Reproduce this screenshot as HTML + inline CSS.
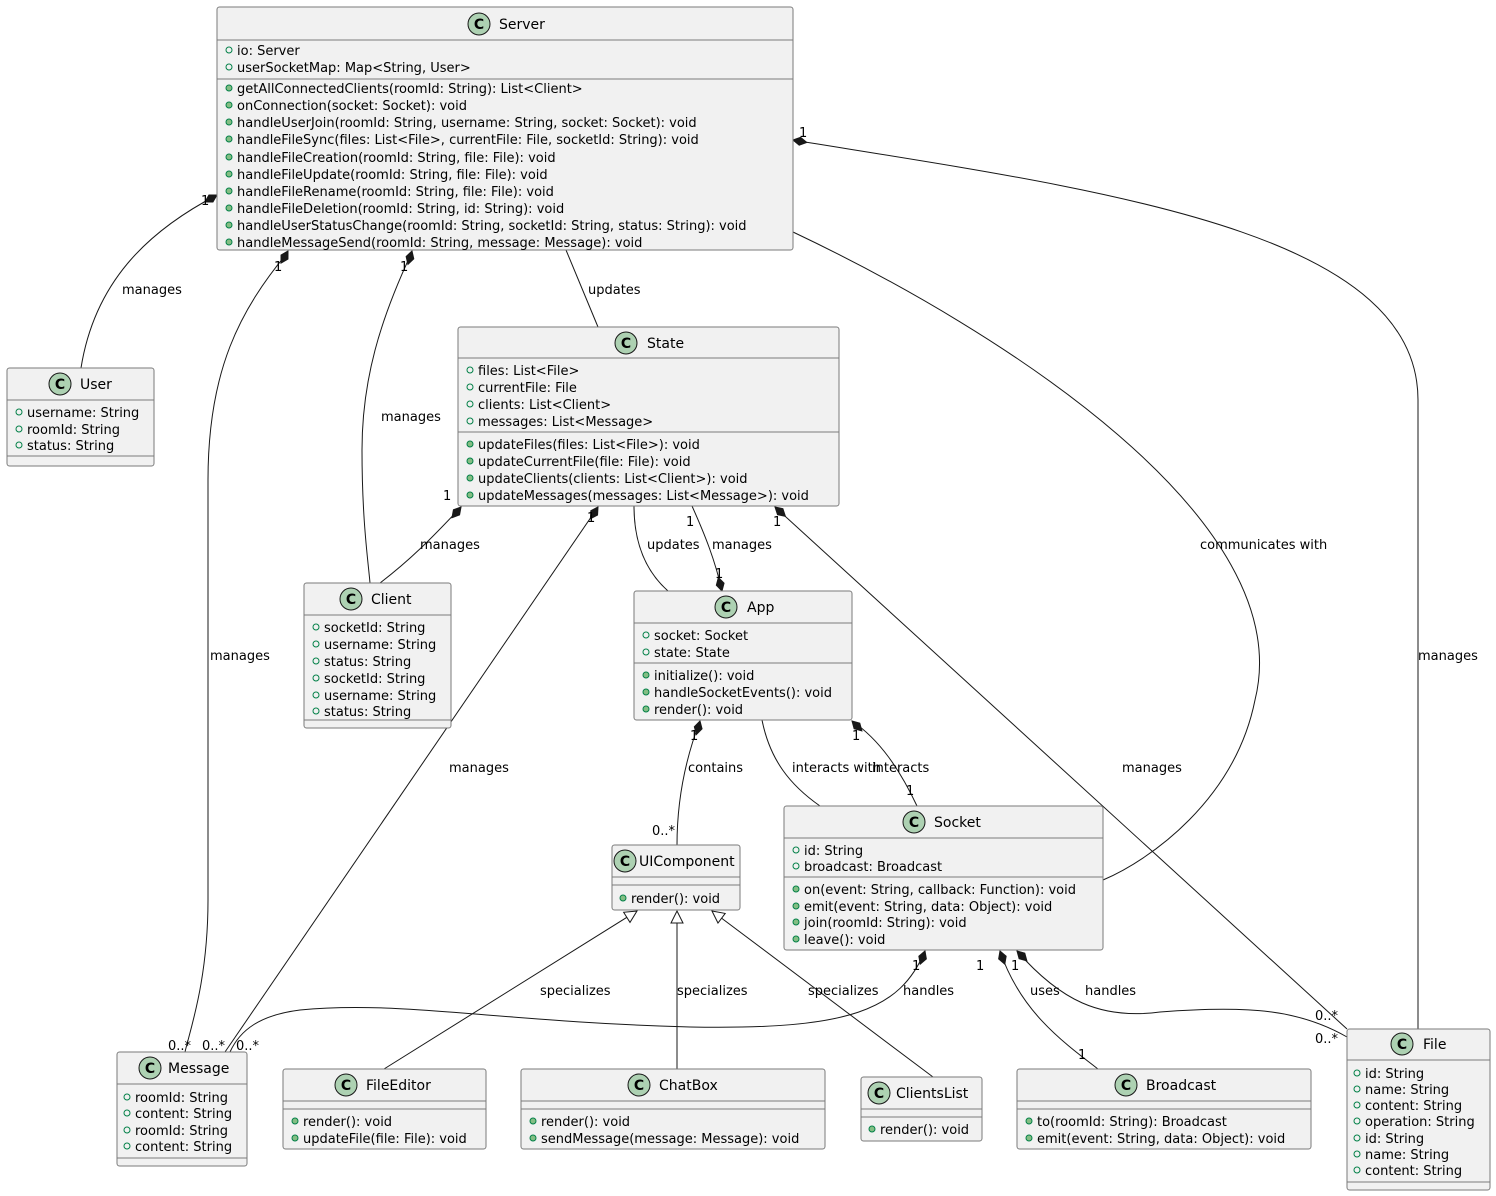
<!DOCTYPE html>
<html><head><meta charset="utf-8"><style>
html,body{margin:0;padding:0;background:#fff}
svg{display:block}
text{font-family:"DejaVu Sans","Liberation Sans",sans-serif;fill:#000}
.n{font-size:14px}
.m{font-size:13px}
.l{font-size:13px}
.box{fill:#F1F1F1;stroke:#7a7a7a;stroke-width:1}
.sep{stroke:#7a7a7a;stroke-width:1}
.e{fill:none;stroke:#181818;stroke-width:1}
.ci{fill:#ADD1B2;stroke:#181818;stroke-width:1}
.ao{fill:none;stroke:#038048;stroke-width:1}
.mo{fill:#84BE84;stroke:#038048;stroke-width:1}
.d{fill:#181818;stroke:#181818}
.t{fill:#fff;stroke:#181818}
</style></head><body>
<svg width="1496" height="1196" viewBox="0 0 1496 1196" xmlns="http://www.w3.org/2000/svg">
<!-- EDGES -->
<path class="e" d="M217,195 C150,230 95,280 81,368"/>
<path class="e" d="M288,252 C240,310 208,370 208,480 L208,900 C208,980 190,1030 185,1052"/>
<path class="e" d="M412,252 C380,320 362,380 362,450 C362,520 368,560 370,583"/>
<path class="e" d="M566,250 L598,327"/>
<path class="e" d="M793,232 C1000,330 1300,520 1255,700 C1235,800 1150,860 1103,880"/>
<path class="e" d="M793,140 C1100,190 1418,230 1418,400 L1418,1029"/>
<path class="e" d="M461,507 C430,540 410,560 380,583"/>
<path class="e" d="M598,507 L225,1052"/>
<path class="e" d="M634,506 C634,550 650,575 668,591"/>
<path class="e" d="M692,506 C705,535 715,560 722,591"/>
<path class="e" d="M775,507 L1347,1029"/>
<path class="e" d="M700,721 C685,760 677,800 677,845"/>
<path class="e" d="M762,720 C770,760 790,785 820,806"/>
<path class="e" d="M852,721 C880,740 900,770 917,806"/>
<path class="e" d="M637,911 L384,1069"/>
<path class="e" d="M677,911 L677,1069"/>
<path class="e" d="M712,911 L933,1077"/>
<path class="e" d="M925,951 C900,1010 850,1030 690,1027 C500,1022 400,1000 300,1010 C260,1015 240,1030 230,1052"/>
<path class="e" d="M1000,951 C1020,1010 1060,1040 1098,1069"/>
<path class="e" d="M1017,951 C1060,1000 1100,1020 1160,1012 C1250,1005 1300,1010 1347,1037"/>
<!-- diamonds -->
<g>
<polygon class="d" points="0,0 7,-4 14,0 7,4" transform="translate(217,195) rotate(150)"/>
<polygon class="d" points="0,0 7,-4 14,0 7,4" transform="translate(288,251) rotate(120)"/>
<polygon class="d" points="0,0 7,-4 14,0 7,4" transform="translate(412,251) rotate(107)"/>
<polygon class="d" points="0,0 7,-4 14,0 7,4" transform="translate(793,140) rotate(10)"/>
<polygon class="d" points="0,0 7,-4 14,0 7,4" transform="translate(461,507) rotate(130)"/>
<polygon class="d" points="0,0 7,-4 14,0 7,4" transform="translate(598,507) rotate(123)"/>
<polygon class="d" points="0,0 7,-4 14,0 7,4" transform="translate(722,591) rotate(-105)"/>
<polygon class="d" points="0,0 7,-4 14,0 7,4" transform="translate(775,507) rotate(42)"/>
<polygon class="d" points="0,0 7,-4 14,0 7,4" transform="translate(700,721) rotate(105)"/>
<polygon class="d" points="0,0 7,-4 14,0 7,4" transform="translate(852,721) rotate(45)"/>
<polygon class="d" points="0,0 7,-4 14,0 7,4" transform="translate(925,951) rotate(110)"/>
<polygon class="d" points="0,0 7,-4 14,0 7,4" transform="translate(1000,951) rotate(70)"/>
<polygon class="d" points="0,0 7,-4 14,0 7,4" transform="translate(1017,951) rotate(45)"/>
<polygon class="t" points="0,0 12,-6 12,6" transform="translate(637,911) rotate(148)"/>
<polygon class="t" points="0,0 12,-6 12,6" transform="translate(677,911) rotate(90)"/>
<polygon class="t" points="0,0 12,-6 12,6" transform="translate(712,911) rotate(37)"/>
</g>
<!-- edge labels -->
<g class="l">
<text x="122" y="294">manages</text>
<text x="201" y="205">1</text>
<text x="60" y="384">0..*</text>
<text x="210" y="660">manages</text>
<text x="274" y="271">1</text>
<text x="168" y="1050">0..*</text>
<text x="381" y="421">manages</text>
<text x="400" y="271">1</text>
<text x="342" y="599">0..*</text>
<text x="588" y="294">updates</text>
<text x="1200" y="549">communicates with</text>
<text x="1418" y="660">manages</text>
<text x="799" y="137">1</text>
<text x="1392" y="1044">0..*</text>
<text x="420" y="549">manages</text>
<text x="443" y="500">1</text>
<text x="365" y="599">0..*</text>
<text x="449" y="772">manages</text>
<text x="587" y="522">1</text>
<text x="202" y="1050">0..*</text>
<text x="236" y="1050">0..*</text>
<text x="647" y="549">updates</text>
<text x="712" y="549">manages</text>
<text x="686" y="526">1</text>
<text x="715" y="578">1</text>
<text x="1122" y="772">manages</text>
<text x="773" y="526">1</text>
<text x="1315" y="1020">0..*</text>
<text x="1315" y="1043">0..*</text>
<text x="688" y="772">contains</text>
<text x="690" y="740">1</text>
<text x="652" y="835">0..*</text>
<text x="792" y="772">interacts with</text>
<text x="872" y="772">interacts</text>
<text x="852" y="740">1</text>
<text x="906" y="795">1</text>
<text x="540" y="995">specializes</text>
<text x="677" y="995">specializes</text>
<text x="808" y="995">specializes</text>
<text x="903" y="995">handles</text>
<text x="912" y="970">1</text>
<text x="1030" y="995">uses</text>
<text x="976" y="970">1</text>
<text x="1078" y="1059">1</text>
<text x="1085" y="995">handles</text>
<text x="1011" y="970">1</text>
</g>

<!-- CLASSES -->
<!-- Server -->
<rect class="box" x="217" y="7" width="576" height="243" rx="2.5"/>
<line class="sep" x1="217" y1="40" x2="793" y2="40"/><line class="sep" x1="217" y1="79" x2="793" y2="79"/>
<circle class="ci" cx="479" cy="24" r="11"/><text class="n" x="479" y="29" text-anchor="middle" font-weight="bold">C</text>
<text class="n" x="499" y="29">Server</text>
<g class="m">
<circle class="ao" cx="229" cy="50" r="3"/><text x="237" y="55">io: Server</text>
<circle class="ao" cx="229" cy="67" r="3"/><text x="237" y="72">userSocketMap: Map&lt;String, User&gt;</text>
<circle class="mo" cx="229" cy="88" r="3"/><text x="237" y="93">getAllConnectedClients(roomId: String): List&lt;Client&gt;</text>
<circle class="mo" cx="229" cy="105" r="3"/><text x="237" y="110">onConnection(socket: Socket): void</text>
<circle class="mo" cx="229" cy="122" r="3"/><text x="237" y="127">handleUserJoin(roomId: String, username: String, socket: Socket): void</text>
<circle class="mo" cx="229" cy="139" r="3"/><text x="237" y="144">handleFileSync(files: List&lt;File&gt;, currentFile: File, socketId: String): void</text>
<circle class="mo" cx="229" cy="157" r="3"/><text x="237" y="162">handleFileCreation(roomId: String, file: File): void</text>
<circle class="mo" cx="229" cy="174" r="3"/><text x="237" y="179">handleFileUpdate(roomId: String, file: File): void</text>
<circle class="mo" cx="229" cy="191" r="3"/><text x="237" y="196">handleFileRename(roomId: String, file: File): void</text>
<circle class="mo" cx="229" cy="208" r="3"/><text x="237" y="213">handleFileDeletion(roomId: String, id: String): void</text>
<circle class="mo" cx="229" cy="225" r="3"/><text x="237" y="230">handleUserStatusChange(roomId: String, socketId: String, status: String): void</text>
<circle class="mo" cx="229" cy="242" r="3"/><text x="237" y="247">handleMessageSend(roomId: String, message: Message): void</text>
</g>

<!-- User -->
<rect class="box" x="7" y="368" width="147" height="98" rx="2.5"/>
<line class="sep" x1="7" y1="400" x2="154" y2="400"/><line class="sep" x1="7" y1="456" x2="154" y2="456"/>
<circle class="ci" cx="60" cy="384" r="11"/><text class="n" x="60" y="389" text-anchor="middle" font-weight="bold">C</text>
<text class="n" x="80" y="389">User</text>
<g class="m">
<circle class="ao" cx="19" cy="412" r="3"/><text x="27" y="417">username: String</text>
<circle class="ao" cx="19" cy="429" r="3"/><text x="27" y="434">roomId: String</text>
<circle class="ao" cx="19" cy="445" r="3"/><text x="27" y="450">status: String</text>
</g>

<!-- State -->
<rect class="box" x="458" y="327" width="381" height="179" rx="2.5"/>
<line class="sep" x1="458" y1="358" x2="839" y2="358"/><line class="sep" x1="458" y1="432" x2="839" y2="432"/>
<circle class="ci" cx="626" cy="343" r="11"/><text class="n" x="626" y="348" text-anchor="middle" font-weight="bold">C</text>
<text class="n" x="647" y="348">State</text>
<g class="m">
<circle class="ao" cx="470" cy="370" r="3"/><text x="478" y="375">files: List&lt;File&gt;</text>
<circle class="ao" cx="470" cy="387" r="3"/><text x="478" y="392">currentFile: File</text>
<circle class="ao" cx="470" cy="404" r="3"/><text x="478" y="409">clients: List&lt;Client&gt;</text>
<circle class="ao" cx="470" cy="421" r="3"/><text x="478" y="426">messages: List&lt;Message&gt;</text>
<circle class="mo" cx="470" cy="444" r="3"/><text x="478" y="449">updateFiles(files: List&lt;File&gt;): void</text>
<circle class="mo" cx="470" cy="461" r="3"/><text x="478" y="466">updateCurrentFile(file: File): void</text>
<circle class="mo" cx="470" cy="478" r="3"/><text x="478" y="483">updateClients(clients: List&lt;Client&gt;): void</text>
<circle class="mo" cx="470" cy="495" r="3"/><text x="478" y="500">updateMessages(messages: List&lt;Message&gt;): void</text>
</g>

<!-- Client -->
<rect class="box" x="304" y="583" width="147" height="145" rx="2.5"/>
<line class="sep" x1="304" y1="615" x2="451" y2="615"/><line class="sep" x1="304" y1="720" x2="451" y2="720"/>
<circle class="ci" cx="351" cy="599" r="11"/><text class="n" x="351" y="604" text-anchor="middle" font-weight="bold">C</text>
<text class="n" x="371" y="604">Client</text>
<g class="m">
<circle class="ao" cx="316" cy="627" r="3"/><text x="324" y="632">socketId: String</text>
<circle class="ao" cx="316" cy="644" r="3"/><text x="324" y="649">username: String</text>
<circle class="ao" cx="316" cy="661" r="3"/><text x="324" y="666">status: String</text>
<circle class="ao" cx="316" cy="678" r="3"/><text x="324" y="683">socketId: String</text>
<circle class="ao" cx="316" cy="695" r="3"/><text x="324" y="700">username: String</text>
<circle class="ao" cx="316" cy="711" r="3"/><text x="324" y="716">status: String</text>
</g>

<!-- App -->
<rect class="box" x="634" y="591" width="218" height="129" rx="2.5"/>
<line class="sep" x1="634" y1="623" x2="852" y2="623"/><line class="sep" x1="634" y1="663" x2="852" y2="663"/>
<circle class="ci" cx="726" cy="607" r="11"/><text class="n" x="726" y="612" text-anchor="middle" font-weight="bold">C</text>
<text class="n" x="747" y="612">App</text>
<g class="m">
<circle class="ao" cx="646" cy="635" r="3"/><text x="654" y="640">socket: Socket</text>
<circle class="ao" cx="646" cy="652" r="3"/><text x="654" y="657">state: State</text>
<circle class="mo" cx="646" cy="675" r="3"/><text x="654" y="680">initialize(): void</text>
<circle class="mo" cx="646" cy="692" r="3"/><text x="654" y="697">handleSocketEvents(): void</text>
<circle class="mo" cx="646" cy="709" r="3"/><text x="654" y="714">render(): void</text>
</g>

<!-- Socket -->
<rect class="box" x="784" y="806" width="319" height="144" rx="2.5"/>
<line class="sep" x1="784" y1="838" x2="1103" y2="838"/><line class="sep" x1="784" y1="877" x2="1103" y2="877"/>
<circle class="ci" cx="914" cy="822" r="11"/><text class="n" x="914" y="827" text-anchor="middle" font-weight="bold">C</text>
<text class="n" x="934" y="827">Socket</text>
<g class="m">
<circle class="ao" cx="796" cy="850" r="3"/><text x="804" y="855">id: String</text>
<circle class="ao" cx="796" cy="866" r="3"/><text x="804" y="871">broadcast: Broadcast</text>
<circle class="mo" cx="796" cy="889" r="3"/><text x="804" y="894">on(event: String, callback: Function): void</text>
<circle class="mo" cx="796" cy="906" r="3"/><text x="804" y="911">emit(event: String, data: Object): void</text>
<circle class="mo" cx="796" cy="922" r="3"/><text x="804" y="927">join(roomId: String): void</text>
<circle class="mo" cx="796" cy="939" r="3"/><text x="804" y="944">leave(): void</text>
</g>

<!-- UIComponent -->
<rect class="box" x="612" y="845" width="128" height="65" rx="2.5"/>
<line class="sep" x1="612" y1="877" x2="740" y2="877"/><line class="sep" x1="612" y1="885" x2="740" y2="885"/>
<circle class="ci" cx="625" cy="861" r="11"/><text class="n" x="625" y="866" text-anchor="middle" font-weight="bold">C</text>
<text class="n" x="639" y="866">UIComponent</text>
<g class="m"><circle class="mo" cx="623" cy="898" r="3"/><text x="631" y="903">render(): void</text></g>

<!-- Message -->
<rect class="box" x="117" y="1052" width="130" height="114" rx="2.5"/>
<line class="sep" x1="117" y1="1084" x2="247" y2="1084"/><line class="sep" x1="117" y1="1158" x2="247" y2="1158"/>
<circle class="ci" cx="150" cy="1068" r="11"/><text class="n" x="150" y="1073" text-anchor="middle" font-weight="bold">C</text>
<text class="n" x="168" y="1073">Message</text>
<g class="m">
<circle class="ao" cx="127" cy="1097" r="3"/><text x="135" y="1102">roomId: String</text>
<circle class="ao" cx="127" cy="1113" r="3"/><text x="135" y="1118">content: String</text>
<circle class="ao" cx="127" cy="1130" r="3"/><text x="135" y="1135">roomId: String</text>
<circle class="ao" cx="127" cy="1146" r="3"/><text x="135" y="1151">content: String</text>
</g>

<!-- FileEditor -->
<rect class="box" x="283" y="1069" width="203" height="80" rx="2.5"/>
<line class="sep" x1="283" y1="1101" x2="486" y2="1101"/><line class="sep" x1="283" y1="1109" x2="486" y2="1109"/>
<circle class="ci" cx="346" cy="1085" r="11"/><text class="n" x="346" y="1090" text-anchor="middle" font-weight="bold">C</text>
<text class="n" x="366" y="1090">FileEditor</text>
<g class="m">
<circle class="mo" cx="295" cy="1121" r="3"/><text x="303" y="1126">render(): void</text>
<circle class="mo" cx="295" cy="1138" r="3"/><text x="303" y="1143">updateFile(file: File): void</text>
</g>

<!-- ChatBox -->
<rect class="box" x="521" y="1069" width="304" height="80" rx="2.5"/>
<line class="sep" x1="521" y1="1101" x2="825" y2="1101"/><line class="sep" x1="521" y1="1109" x2="825" y2="1109"/>
<circle class="ci" cx="639" cy="1085" r="11"/><text class="n" x="639" y="1090" text-anchor="middle" font-weight="bold">C</text>
<text class="n" x="659" y="1090">ChatBox</text>
<g class="m">
<circle class="mo" cx="533" cy="1121" r="3"/><text x="541" y="1126">render(): void</text>
<circle class="mo" cx="533" cy="1138" r="3"/><text x="541" y="1143">sendMessage(message: Message): void</text>
</g>

<!-- ClientsList -->
<rect class="box" x="861" y="1077" width="121" height="64" rx="2.5"/>
<line class="sep" x1="861" y1="1109" x2="982" y2="1109"/><line class="sep" x1="861" y1="1117" x2="982" y2="1117"/>
<circle class="ci" cx="879" cy="1093" r="11"/><text class="n" x="879" y="1098" text-anchor="middle" font-weight="bold">C</text>
<text class="n" x="896" y="1098">ClientsList</text>
<g class="m"><circle class="mo" cx="872" cy="1129" r="3"/><text x="880" y="1134">render(): void</text></g>

<!-- Broadcast -->
<rect class="box" x="1017" y="1069" width="294" height="80" rx="2.5"/>
<line class="sep" x1="1017" y1="1101" x2="1311" y2="1101"/><line class="sep" x1="1017" y1="1109" x2="1311" y2="1109"/>
<circle class="ci" cx="1126" cy="1085" r="11"/><text class="n" x="1126" y="1090" text-anchor="middle" font-weight="bold">C</text>
<text class="n" x="1146" y="1090">Broadcast</text>
<g class="m">
<circle class="mo" cx="1029" cy="1121" r="3"/><text x="1037" y="1126">to(roomId: String): Broadcast</text>
<circle class="mo" cx="1029" cy="1138" r="3"/><text x="1037" y="1143">emit(event: String, data: Object): void</text>
</g>

<!-- File -->
<rect class="box" x="1347" y="1029" width="143" height="161" rx="2.5"/>
<line class="sep" x1="1347" y1="1060" x2="1490" y2="1060"/><line class="sep" x1="1347" y1="1182" x2="1490" y2="1182"/>
<circle class="ci" cx="1402" cy="1044" r="11"/><text class="n" x="1402" y="1049" text-anchor="middle" font-weight="bold">C</text>
<text class="n" x="1423" y="1049">File</text>
<g class="m">
<circle class="ao" cx="1357" cy="1073" r="3"/><text x="1365" y="1078">id: String</text>
<circle class="ao" cx="1357" cy="1089" r="3"/><text x="1365" y="1094">name: String</text>
<circle class="ao" cx="1357" cy="1105" r="3"/><text x="1365" y="1110">content: String</text>
<circle class="ao" cx="1357" cy="1121" r="3"/><text x="1365" y="1126">operation: String</text>
<circle class="ao" cx="1357" cy="1138" r="3"/><text x="1365" y="1143">id: String</text>
<circle class="ao" cx="1357" cy="1154" r="3"/><text x="1365" y="1159">name: String</text>
<circle class="ao" cx="1357" cy="1170" r="3"/><text x="1365" y="1175">content: String</text>
</g>
</svg>
</body></html>
